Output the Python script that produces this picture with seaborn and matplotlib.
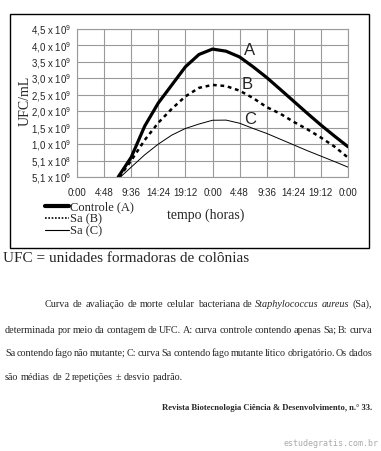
"""
Curva de morte celular de Staphylococcus aureus (UFC/mL ao longo do tempo).
"""
import matplotlib
matplotlib.use('Agg')
import matplotlib.pyplot as plt
import seaborn as sns
from matplotlib.patches import Rectangle
from matplotlib.lines import Line2D

W, H = 381, 451

# tempo em horas (cada divisao = 4:48)
HOURS = [9.6, 12.0, 14.4, 16.8, 19.2, 21.6, 24.0, 26.4, 28.8, 31.2,
         33.6, 36.0, 38.4, 40.8, 43.2, 45.6, 48.0]
# valores em unidades de linha da grade (0 = 5,1 x 10^6 ... 9 = 4,5 x 10^9)
CURVE_A = [1.20, 3.10, 4.50, 5.60, 6.70, 7.45, 7.78, 7.65, 7.30, 6.70,
           6.05, 5.33, 4.60, 3.87, 3.16, 2.49, 1.84]
CURVE_B = [1.00, 2.25, 3.30, 4.15, 4.90, 5.42, 5.60, 5.53, 5.25, 4.80,
           4.25, 3.85, 3.35, 2.90, 2.40, 1.85, 1.18]
CURVE_C = [0.60, 1.35, 2.00, 2.55, 2.95, 3.22, 3.45, 3.46, 3.27, 2.95,
           2.65, 2.30, 1.95, 1.60, 1.27, 0.94, 0.60]
START_A, START_B, START_C = 7.3, 7.5, 7.7

X_TICKS = [0, 4.8, 9.6, 14.4, 19.2, 24.0, 28.8, 33.6, 38.4, 43.2, 48.0]
X_LABELS = ['0:00', '4:48', '9:36', '14:24', '19:12', '0:00',
            '4:48', '9:36', '14:24', '19:12', '0:00']
Y_LABELS = ['5,1 x 10$^{6}$', '5,1 x 10$^{8}$', '1,0 x 10$^{9}$',
            '1,5 x 10$^{9}$', '2,0 x 10$^{9}$', '2,5 x 10$^{9}$',
            '3,0 x 10$^{9}$', '3,5 x 10$^{9}$', '4,0 x 10$^{9}$',
            '4,5 x 10$^{9}$']
Y_LABELS = [s.replace('$^{', r'$\mathregular{^{').replace('}$', '}}$') for s in Y_LABELS]

CAPTION = [
    [('Curva', 0), ('de', 0), ('avaliação', 0), ('de', 0), ('morte', 0),
     ('celular', 0), ('bacteriana', 0), ('de', 0), ('Staphylococcus', 1),
     ('aureus', 1), ('(Sa),', 0)],
    [('determinada', 0), ('por', 0), ('meio', 0), ('da', 0), ('contagem', 0),
     ('de', 0), ('UFC.', 0), ('A:', 0), ('curva', 0), ('controle', 0),
     ('contendo', 0), ('apenas', 0), ('Sa;', 0), ('B:', 0), ('curva', 0)],
    [('Sa', 0), ('contendo', 0), ('fago', 0), ('não', 0), ('mutante;', 0),
     ('C:', 0), ('curva', 0), ('Sa', 0), ('contendo', 0), ('fago', 0),
     ('mutante', 0), ('lítico', 0), ('obrigatório.', 0), ('Os', 0), ('dados', 0)],
    [('são', 0), ('médias', 0), ('de', 0), ('2', 0), ('repetições', 0),
     ('±', 0), ('desvio', 0), ('padrão.', 0)],
]

SERIF = 'Liberation Serif'
SANS = 'Liberation Sans'


def fx(px):
    return px / W


def fy(py):
    return 1 - py / H


def draw_justified(fig, words, x0, x1, y, size, justify=True):
    """Place words one by one so the line fills x0..x1 (pixels)."""
    r = fig.canvas.get_renderer()
    texts, widths = [], []
    for w, it in words:
        t = fig.text(0, fy(y), w, fontsize=size, family=SERIF,
                     style='italic' if it else 'normal', va='baseline')
        texts.append(t)
        widths.append(t.get_window_extent(r).width)
    if justify and len(words) > 1:
        gap = (x1 - x0 - sum(widths)) / (len(words) - 1)
    else:
        gap = size * 1.39 * 0.25
    x = x0
    for t, w in zip(texts, widths):
        t.set_x(fx(x))
        x += w + gap


def main():
    sns.set_style('white')
    plt.rcParams['font.family'] = [SANS, 'DejaVu Sans']

    fig = plt.figure(figsize=(W / 100, H / 100), dpi=100)
    ax = fig.add_axes([fx(77), fy(177), fx(348) - fx(77), fy(29) - fy(177)])

    sns.lineplot(x=[START_A] + HOURS, y=[0] + CURVE_A, ax=ax, color='black',
                 linewidth=2.3, estimator=None, sort=False)
    sns.lineplot(x=[START_B] + HOURS, y=[0] + CURVE_B, ax=ax, color='black',
                 linewidth=1.8, linestyle=(0, (1.5, 1.5)), estimator=None, sort=False)
    sns.lineplot(x=[START_C] + HOURS, y=[0] + CURVE_C, ax=ax, color='black',
                 linewidth=0.7, estimator=None, sort=False)

    ax.set_xlim(0, 48)
    ax.set_ylim(0, 9)
    ax.set_xticks(X_TICKS)
    ax.set_xticklabels(X_LABELS, fontsize=7)
    ax.set_yticks(range(len(Y_LABELS)))
    ax.set_yticklabels(Y_LABELS, fontsize=7)
    ax.tick_params(length=0, pad=4)
    ax.tick_params(axis='x', pad=8)
    ax.grid(True, color='#9a9a9a', linewidth=0.8)
    for s in ax.spines.values():
        s.set_color('#9a9a9a')
        s.set_linewidth(0.8)
    ax.set_xlabel('')
    ax.set_ylabel('')

    for lab, xh, yv in [('A', 30.6, 7.7), ('B', 30.1, 5.6), ('C', 30.6, 3.5)]:
        ax.text(xh, yv, lab, fontsize=12, family=SANS, ha='center', va='center')

    fig.text(fx(25), fy(101), 'UFC/mL', rotation=90, fontsize=10,
             family=SERIF, ha='center', va='center')
    fig.text(fx(206), fy(215), 'tempo (horas)', fontsize=10,
             family=SERIF, ha='center', va='center')

    handles = [Line2D([], [], color='black', lw=3.0),
               Line2D([], [], color='black', lw=1.2, ls=(0, (1, 1))),
               Line2D([], [], color='black', lw=0.8)]
    fig.legend(handles, ['Controle (A)', 'Sa (B)', 'Sa (C)'],
               loc='upper left', bbox_to_anchor=(fx(45), fy(201)),
               frameon=False, prop={'family': SERIF, 'size': 9},
               handlelength=1.9, handletextpad=0.1, labelspacing=0.0,
               borderpad=0, borderaxespad=0)

    fig.add_artist(Rectangle((fx(10), fy(248)), fx(369) - fx(10), fy(14) - fy(248),
                             transform=fig.transFigure, fill=False,
                             edgecolor='black', linewidth=1))

    fig.text(fx(3), fy(262), 'UFC = unidades formadoras de colônias',
             fontsize=11, family=SERIF, va='baseline')

    draw_justified(fig, CAPTION[0], 45, 372, 307, 7.3)
    draw_justified(fig, CAPTION[1], 5, 372, 333, 7.3)
    draw_justified(fig, CAPTION[2], 5, 372, 356, 7.3)
    draw_justified(fig, CAPTION[3], 5, 372, 380, 7.3, justify=False)

    fig.text(fx(372), fy(410),
             'Revista Biotecnologia Ciência & Desenvolvimento, n.° 33.',
             fontsize=6.2, family=SERIF, weight='bold', ha='right', va='baseline')
    fig.text(fx(378), fy(446), 'estudegratis.com.br', fontsize=6.0,
             family='DejaVu Sans Mono', color='#ababab', ha='right', va='baseline')

    fig.savefig('out.png', dpi=100)
    plt.close(fig)


if __name__ == '__main__':
    main()
